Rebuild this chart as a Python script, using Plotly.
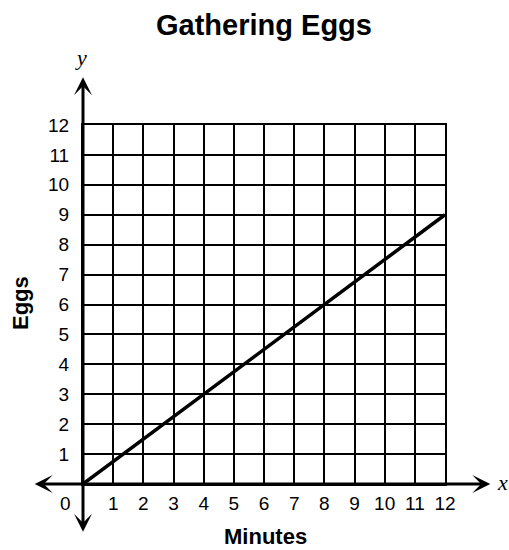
import plotly.graph_objects as go

title = "Gathering Eggs"
x_label = "Minutes"
y_label = "Eggs"
x_ticks = list(range(0, 13))
y_ticks = list(range(0, 13))
minutes = [0, 12]
eggs = [0, 9]

FONT = "Liberation Sans, Arial, sans-serif"
SERIF = "Liberation Serif, Times New Roman, serif"

W, H = 509, 550
L, R, T, B = 83, 64, 125, 66

fig = go.Figure()
fig.add_trace(go.Scatter(x=minutes, y=eggs, mode="lines",
                         line=dict(color="black", width=3.5),
                         showlegend=False, hoverinfo="skip", cliponaxis=False))

axis_common = dict(
    showgrid=True, gridcolor="black", gridwidth=2,
    showline=True, linecolor="black", linewidth=2, mirror=True,
    zeroline=False, ticks="outside", tickcolor="rgba(0,0,0,0)",
    tickfont=dict(family=FONT, size=19, color="black"),
    fixedrange=True,
)
fig.update_xaxes(range=[0, 12], tickvals=x_ticks[1:], ticktext=[str(v) for v in x_ticks[1:]],
                 ticklen=1, **axis_common)
fig.update_yaxes(range=[0, 12], tickvals=y_ticks[1:], ticktext=[str(v) for v in y_ticks[1:]],
                 ticklen=8, **axis_common)


def px_x(p):
    return (p - L) / (W - L - R)


def px_y(p):
    return 1 - (p - T) / (H - T - B)


ann = []
arrow = dict(showarrow=True, arrowhead=3, arrowsize=1.0, arrowwidth=3, arrowcolor="black",
             axref="x", ayref="y", xref="x", yref="y", text="", standoff=0, startstandoff=0)
xmax, xmin = 13.5, -1.6
ymax, ymin = 13.6, -1.6
ann.append(dict(x=xmax, y=0, ax=0, ay=0, **arrow))
ann.append(dict(x=xmin, y=0, ax=0, ay=0, **arrow))
ann.append(dict(x=0, y=ymax, ax=0, ay=0, **arrow))
ann.append(dict(x=0, y=ymin, ax=0, ay=0, **arrow))

txt = dict(xref="paper", yref="paper", showarrow=False, xanchor="center", yanchor="middle")
ann.append(dict(x=px_x(495), y=px_y(482), text="<i>x</i>",
                font=dict(family=SERIF, size=22, color="black"),
                xref="paper", yref="paper", showarrow=False, xanchor="left", yanchor="middle"))
ann.append(dict(x=px_x(81), y=px_y(58), text="<i>y</i>",
                font=dict(family=SERIF, size=22, color="black"), **txt))
ann.append(dict(x=px_x(65), y=px_y(503), text=str(x_ticks[0]),
                font=dict(family=FONT, size=19, color="black"), **txt))
ann.append(dict(x=px_x(265), y=px_y(536), text="<b>" + x_label + "</b>",
                font=dict(family=FONT, size=22, color="black"), **txt))
ann.append(dict(x=px_x(20), y=px_y(303), text="<b>" + y_label + "</b>", textangle=-90,
                font=dict(family=FONT, size=22, color="black"), **txt))

fig.update_layout(
    width=W, height=H,
    margin=dict(l=L, r=R, t=T, b=B, autoexpand=False),
    paper_bgcolor="white", plot_bgcolor="white",
    title=dict(text="<b>" + title + "</b>", x=0.5, xref="paper", y=1 - 25 / H,
               yanchor="middle", font=dict(family=FONT, size=29, color="black")),
    annotations=ann,
)

fig.write_html("out.html", config={"displayModeBar": False},
               post_script="document.body.style.margin='0px';document.body.style.overflow='hidden';")
